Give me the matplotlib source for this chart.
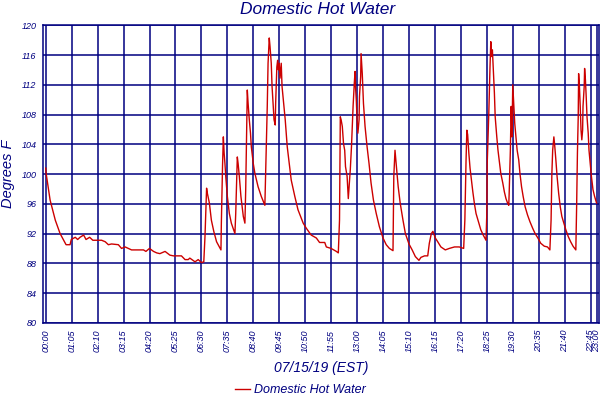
import matplotlib
matplotlib.use("Agg")
import matplotlib.pyplot as plt

# minutes after midnight, 07/15/19
minutes = [0, 1, 11, 24, 36, 51, 61, 64, 74, 80, 86, 95, 101, 110, 118, 140, 149, 157, 165, 182,
           190, 199, 215, 245, 251, 260, 270, 278, 286, 299, 311, 320, 340, 349, 357,
           361, 374, 382, 390, 396, 399, 403, 405, 410, 415, 421, 428, 439, 440, 443, 445, 447,
           449, 451, 455, 460, 465, 472, 474, 476, 480, 482, 485, 489, 495, 499, 501, 505, 507,
           510, 513, 515, 520, 524, 532, 540, 549, 551, 555, 557, 560, 562, 565, 567, 570, 572,
           575, 576, 579, 581, 583, 585, 587, 590, 592, 596, 600, 605, 610, 615, 624, 632, 645,
           653, 665, 678, 686, 699, 703, 715, 728, 733,
           736, 738, 740, 743, 746, 749, 751, 755, 758, 760, 763, 766, 770, 773, 775, 776, 778,
           780, 782, 785, 786, 789, 790, 793, 796, 800, 805, 810, 815, 821, 828, 836, 845, 853,
           861, 870, 872, 875, 877, 880, 883, 888, 895, 901, 910, 918, 926, 935, 940, 949, 957,
           961, 966, 970, 976, 982, 990, 1001, 1011, 1024, 1036, 1047, 1050, 1053, 1055, 1057,
           1060, 1063, 1066, 1070, 1074, 1078, 1085, 1090, 1096, 1103,
           1105, 1106, 1110, 1113, 1115, 1117, 1119, 1121, 1124, 1126, 1130, 1133, 1136, 1140,
           1145, 1149, 1153, 1157, 1160, 1161, 1164, 1166, 1168, 1170, 1171, 1173, 1175, 1178,
           1181, 1185, 1188, 1192, 1196, 1201, 1207, 1213, 1220, 1226, 1233, 1240, 1249, 1257,
           1263, 1266, 1268, 1270, 1273, 1275, 1278, 1281, 1285, 1289, 1293, 1298, 1303, 1309,
           1315, 1321, 1328, 1330, 1332, 1334, 1335, 1337, 1339, 1341, 1343, 1345, 1346, 1349,
           1350, 1352, 1354, 1356, 1359, 1361, 1364, 1367, 1371, 1375, 1380]

temps = [100.8, 100.1, 96.5, 93.8, 92.0, 90.5, 90.5, 91.2, 91.5, 91.2, 91.5, 91.8, 91.2, 91.5,
         91.1, 91.1, 90.9, 90.5, 90.6, 90.5, 90.0, 90.2, 89.8, 89.8, 89.6, 90.0, 89.6, 89.4,
         89.3, 89.6, 89.1, 89.0, 89.0, 88.5, 88.5,
         88.7, 88.2, 88.5, 88.1, 88.2, 91.6, 98.1, 97.4, 96.1, 93.8, 92.3, 90.9, 89.8, 93.4,
         101.2, 105.0, 102.8, 101.4, 99.7, 97.0, 94.7, 93.4, 92.3, 92.0, 94.7, 102.3, 101.4,
         99.7, 97.0, 94.3, 93.4, 97.9, 111.3, 109.5, 107.3, 105.5, 103.7, 101.4, 100.1, 98.3,
         97.0, 95.8, 100.1, 109.1, 114.9, 118.3, 117.1, 114.9, 111.8, 109.1, 107.3, 106.6,
         109.5, 114.4, 115.3, 114.0, 114.9, 112.9, 114.9, 111.8, 109.5, 107.3, 103.7, 101.4,
         99.2, 97.0, 95.2, 93.4, 92.7, 91.8, 91.4, 90.8, 90.8, 90.2, 90.0, 89.6, 89.4,
         93.8, 107.7, 107.3, 106.4, 104.1, 103.2, 101.0, 99.7, 96.7, 98.3, 100.6, 103.7, 109.1,
         112.2, 113.8, 111.8, 110.0, 107.3, 105.5, 107.3, 110.4, 113.1, 116.2, 113.5, 109.5,
         106.4, 103.7, 101.4, 98.8, 96.5, 94.7, 92.9, 91.4, 90.5, 90.0, 89.7, 99.7, 103.2,
         101.9, 100.1, 98.3, 96.1, 93.8, 92.0, 90.6, 89.8, 88.9, 88.4, 88.8, 89.0, 89.0, 90.7,
         92.0, 92.3, 91.4, 90.9, 90.2, 89.8, 90.0, 90.2, 90.2, 90.0, 93.8, 101.9, 105.9, 105.3,
         102.8, 100.8, 99.4, 97.6, 96.0, 94.7, 93.4, 92.5, 91.8, 91.1,
         94.7, 101.4, 108.2, 114.4, 117.8, 115.8, 116.7, 114.4, 110.9, 107.7, 105.0, 103.2,
         101.9, 100.1, 98.8, 97.6, 96.7, 96.1, 95.8, 97.4, 103.2, 109.1, 105.0, 112.0, 110.9,
         108.6, 106.8, 105.0, 103.2, 101.9, 100.1, 98.3, 97.0, 95.6, 94.5, 93.6, 92.7, 92.0,
         91.4, 90.7, 90.3, 90.2, 89.8, 93.8, 100.1, 103.2, 105.0, 103.9, 101.9, 99.7, 97.4,
         95.6, 94.3, 93.4, 92.5, 91.6, 90.9, 90.3, 89.8, 95.6, 102.8, 107.7, 113.5, 111.8,
         109.1, 105.9, 104.6, 105.9, 109.1, 111.8, 114.2, 112.7, 110.4, 107.7, 105.5, 103.2,
         101.4, 99.7, 97.9, 97.0, 96.1]

tick_minutes = list(range(0, 1366, 65)) + [1380]
tick_labels = ["%02d:%02d" % (m // 60, m % 60) for m in tick_minutes]
y_ticks = list(range(80, 121, 4))

navy = "#000080"
red = "#cc0000"
font = "Liberation Sans"

fig = plt.figure(figsize=(6, 4), dpi=100)
ax = fig.add_axes([0.0722, 0.193, 0.9261, 0.7437])

ax.plot(minutes, temps, color=red, linewidth=1.0, label="Domestic Hot Water", zorder=3)

ax.set_xlim(-6, 1386)
ax.set_ylim(80, 120)
ax.set_xticks(tick_minutes)
ax.set_xticklabels(tick_labels, rotation=90, fontsize=6.5, color=navy,
                   fontstyle="italic", family=font)
ax.set_yticks(y_ticks)
ax.set_yticklabels([str(v) for v in y_ticks], fontsize=6.5, color=navy,
                   fontstyle="italic", family=font)
ax.tick_params(axis="both", length=0)
ax.tick_params(axis="x", pad=5)
ax.tick_params(axis="y", pad=5)

ax.grid(True, color=navy, linewidth=1.1, zorder=1)
ax.set_axisbelow(True)
for s in ax.spines.values():
    s.set_color(navy)
    s.set_linewidth(1.1)

ax.set_xlabel("07/15/19 (EST)", fontsize=10, color=navy, fontstyle="italic",
              family=font, labelpad=6)

# y label placed by hand, it sits close to the left edge
fig.text(8 / 600, 0.566, "Degrees F", rotation=90, ha="center", va="center",
         fontsize=10.5, color=navy, fontstyle="italic", family=font)

fig.text(0.529, 0.977, "Domestic Hot Water", ha="center", va="center", fontsize=12.5,
         color=navy, fontstyle="italic", family=font)

leg = fig.legend(loc="center", bbox_to_anchor=(0.5, 0.025), frameon=False,
                 prop={"family": font, "style": "italic", "size": 9},
                 handlelength=1.2, handletextpad=0.3)
for t in leg.get_texts():
    t.set_color(navy)

fig.savefig("out.png", dpi=100)
